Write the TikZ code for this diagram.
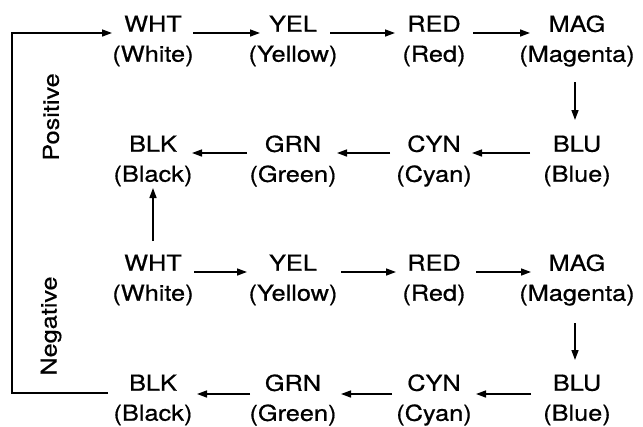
\documentclass[tikz,border=0pt]{standalone}
\usepackage{fontspec}
\setmainfont{TeX Gyre Heros}[FakeStretch=1.15,FakeBold=0.6]
\usetikzlibrary{arrows.meta}
\begin{document}
\begin{tikzpicture}[x=1pt,y=-1pt,
  lbl/.style={align=center,font=\fontsize{22}{30}\selectfont,inner sep=0pt},
  side/.style={font=\fontsize{22}{30}\selectfont,inner sep=0pt,rotate=90},
  arr/.style={line width=1.5pt,-{Triangle[length=10pt,width=7pt]}},
  ln/.style={line width=1.5pt}]
\useasboundingbox (0,0) rectangle (643,426);
% row 1
\node[lbl] (w1) at (153,41) {WHT\\(White)};
\node[lbl] (y1) at (293,41) {YEL\\(Yellow)};
\node[lbl] (r1) at (434,41) {RED\\(Red)};
\node[lbl] (m1) at (577,41) {MAG\\(Magenta)};
% row 2
\node[lbl] (k1) at (153,161) {BLK\\(Black)};
\node[lbl] (g1) at (293,161) {GRN\\(Green)};
\node[lbl] (c1) at (434,161) {CYN\\(Cyan)};
\node[lbl] (b1) at (577,161) {BLU\\(Blue)};
% row 3
\node[lbl] (w2) at (153,280) {WHT\\(White)};
\node[lbl] (y2) at (293,280) {YEL\\(Yellow)};
\node[lbl] (r2) at (434,280) {RED\\(Red)};
\node[lbl] (m2) at (577,280) {MAG\\(Magenta)};
% row 4
\node[lbl] (k2) at (153,400) {BLK\\(Black)};
\node[lbl] (g2) at (293,400) {GRN\\(Green)};
\node[lbl] (c2) at (434,400) {CYN\\(Cyan)};
\node[lbl] (b2) at (577,400) {BLU\\(Blue)};
% side labels
\node[side] (pos) at (51,117) {Positive};
\node[side] (neg) at (51,326) {Negative};
% row 1 arrows
\draw[arr] ([shift={(40,-8)}]w1.center) -- ([shift={(-33,-8)}]y1.center);
\draw[arr] ([shift={(37,-8)}]y1.center) -- ([shift={(-39,-8)}]r1.center);
\draw[arr] ([shift={(39,-8)}]r1.center) -- ([shift={(-47,-8)}]m1.center);
\draw[arr] ([shift={(-2,41)}]m1.center) -- ([shift={(-2,-41)}]b1.center);
% row 2 arrows
\draw[arr] ([shift={(-47,-8)}]b1.center) -- ([shift={(38,-8)}]c1.center);
\draw[arr] ([shift={(-44,-8)}]c1.center) -- ([shift={(44,-8)}]g1.center);
\draw[arr] ([shift={(-46,-8)}]g1.center) -- ([shift={(39,-8)}]k1.center);
\draw[arr] ([shift={(0,-39)}]w2.center) -- ([shift={(0,27)}]k1.center);
% row 3 arrows
\draw[arr] ([shift={(41,-8)}]w2.center) -- ([shift={(-46,-8)}]y2.center);
\draw[arr] ([shift={(48,-8)}]y2.center) -- ([shift={(-38,-8)}]r2.center);
\draw[arr] ([shift={(42,-8)}]r2.center) -- ([shift={(-46,-8)}]m2.center);
\draw[arr] ([shift={(-2,43)}]m2.center) -- ([shift={(-2,-40)}]b2.center);
% row 4 arrows
\draw[arr] ([shift={(-46,-6)}]b2.center) -- ([shift={(42,-6)}]c2.center);
\draw[arr] ([shift={(-42,-6)}]c2.center) -- ([shift={(48,-6)}]g2.center);
\draw[arr] ([shift={(-43,-6)}]g2.center) -- ([shift={(44,-6)}]k2.center);
% feedback loop
\coordinate (fbB) at (12,393);
\coordinate (fbT) at (12,33);
\draw[arr] ([shift={(-45,-7)}]k2.center) -- (fbB) -- (fbT) -- ([shift={(-41,-8)}]w1.center);
\end{tikzpicture}
\end{document}
